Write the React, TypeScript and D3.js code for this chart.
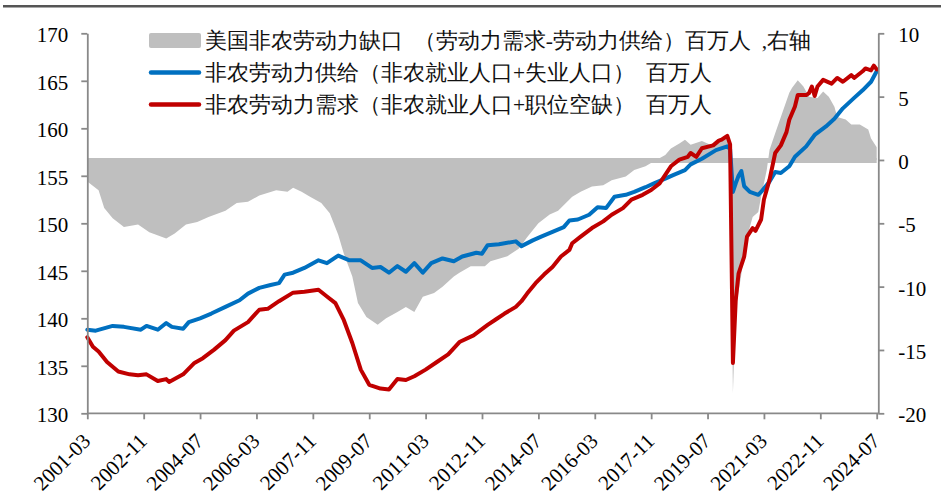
import { useEffect, useRef } from "react";
import * as d3 from "d3";

// month-end readings, millions of persons
const supply: [string, number][] = [
  ["2001-03", 138.8], ["2001-06", 138.7], ["2001-12", 139.2], ["2002-04", 139.1],
  ["2002-10", 138.8], ["2002-12", 139.2], ["2003-04", 138.8], ["2003-07", 139.5],
  ["2003-09", 139.1], ["2004-01", 138.9], ["2004-03", 139.6], ["2004-07", 140.0],
  ["2004-11", 140.5], ["2005-04", 141.2], ["2005-09", 141.9], ["2005-12", 142.6],
  ["2006-04", 143.2], ["2006-08", 143.5], ["2006-11", 143.7], ["2007-01", 144.6],
  ["2007-04", 144.8], ["2007-08", 145.3], ["2008-01", 146.1], ["2008-04", 145.8],
  ["2008-08", 146.6], ["2008-12", 146.1], ["2009-04", 146.1], ["2009-08", 145.3],
  ["2009-11", 145.4], ["2010-02", 144.8], ["2010-05", 145.5], ["2010-08", 144.9],
  ["2010-11", 145.8], ["2011-02", 144.8], ["2011-05", 145.8], ["2011-09", 146.3],
  ["2012-01", 146.0], ["2012-04", 146.5], ["2012-09", 146.9], ["2012-11", 146.8],
  ["2013-01", 147.7], ["2013-05", 147.8], ["2013-07", 147.9], ["2013-11", 148.1],
  ["2014-01", 147.6], ["2014-05", 148.2], ["2014-08", 148.6], ["2014-12", 149.1],
  ["2015-04", 149.6], ["2015-06", 150.3], ["2015-09", 150.4], ["2016-01", 150.9],
  ["2016-04", 151.7], ["2016-07", 151.6], ["2016-10", 152.8], ["2017-02", 153.0],
  ["2017-05", 153.3], ["2017-09", 153.8], ["2017-12", 154.2], ["2018-04", 154.7],
  ["2018-07", 155.1], ["2018-11", 155.6], ["2019-01", 156.2], ["2019-05", 156.8],
  ["2019-10", 157.7], ["2020-02", 158.1], ["2020-03", 157.8], ["2020-04", 153.3],
  ["2020-05", 154.2], ["2020-06", 155.0], ["2020-07", 155.5], ["2020-08", 153.9],
  ["2020-10", 153.3], ["2021-01", 153.0], ["2021-02", 153.3], ["2021-05", 154.4],
  ["2021-07", 155.4], ["2021-09", 155.3], ["2021-12", 156.0], ["2022-02", 157.0],
  ["2022-06", 158.1], ["2022-09", 159.3], ["2023-01", 160.2], ["2023-04", 161.0],
  ["2023-07", 162.1], ["2023-11", 163.2], ["2024-02", 164.0], ["2024-05", 164.9],
  ["2024-07", 166.0],
];

const demand: [string, number][] = [
  ["2001-03", 138.0], ["2001-05", 137.0], ["2001-07", 136.5], ["2001-10", 135.4],
  ["2002-02", 134.4], ["2002-06", 134.1], ["2002-09", 134.0], ["2002-12", 134.1],
  ["2003-04", 133.4], ["2003-07", 133.6], ["2003-08", 133.3], ["2004-01", 134.1],
  ["2004-05", 135.3], ["2004-08", 135.8], ["2004-12", 136.7], ["2005-04", 137.7],
  ["2005-07", 138.7], ["2005-12", 139.6], ["2006-04", 140.9], ["2006-07", 141.0],
  ["2006-11", 141.8], ["2007-04", 142.7], ["2007-08", 142.8], ["2008-01", 143.0],
  ["2008-04", 142.3], ["2008-07", 141.6], ["2008-10", 139.8], ["2009-01", 137.4],
  ["2009-04", 134.6], ["2009-07", 133.0], ["2009-11", 132.6], ["2010-02", 132.5],
  ["2010-05", 133.6], ["2010-08", 133.5], ["2010-11", 133.9], ["2011-03", 134.6],
  ["2011-07", 135.4], ["2011-11", 136.2], ["2012-03", 137.5], ["2012-08", 138.2],
  ["2013-01", 139.3], ["2013-04", 139.9], ["2013-07", 140.5], ["2013-11", 141.2],
  ["2014-01", 141.8], ["2014-03", 142.6], ["2014-06", 143.7], ["2014-09", 144.6],
  ["2014-12", 145.4], ["2015-03", 146.5], ["2015-06", 147.2], ["2015-07", 147.9],
  ["2015-10", 148.6], ["2016-02", 149.5], ["2016-06", 150.2], ["2016-09", 150.9],
  ["2017-01", 151.6], ["2017-04", 152.5], ["2017-08", 153.0], ["2017-11", 153.5],
  ["2018-02", 154.2], ["2018-04", 155.1], ["2018-06", 156.0], ["2018-09", 156.7],
  ["2018-12", 157.0], ["2019-01", 157.4], ["2019-03", 157.0], ["2019-05", 157.9],
  ["2019-09", 158.2], ["2019-11", 158.7], ["2019-12", 158.8], ["2020-02", 159.2],
  ["2020-03", 158.3], ["2020-04", 135.3], ["2020-05", 141.9], ["2020-06", 144.7],
  ["2020-08", 146.5], ["2020-09", 148.6], ["2020-11", 149.5], ["2020-12", 149.2],
  ["2021-02", 150.4], ["2021-03", 152.5], ["2021-05", 154.6], ["2021-07", 157.4],
  ["2021-09", 158.2], ["2021-11", 159.6], ["2021-12", 160.9], ["2022-02", 162.3],
  ["2022-03", 163.5], ["2022-06", 163.5], ["2022-07", 163.7], ["2022-08", 164.4],
  ["2022-09", 163.4], ["2022-10", 164.4], ["2022-12", 165.1], ["2023-03", 164.7],
  ["2023-05", 165.3], ["2023-07", 164.9], ["2023-10", 165.6], ["2023-11", 165.3],
  ["2024-02", 166.0], ["2024-03", 166.3], ["2024-05", 166.1], ["2024-06", 166.6],
  ["2024-07", 166.2],
];

const gap: [string, number][] = [
  ["2001-03", -1.7], ["2001-07", -2.4], ["2001-09", -3.8], ["2001-12", -4.6],
  ["2002-04", -5.3], ["2002-09", -5.1], ["2003-01", -5.7], ["2003-07", -6.2],
  ["2003-10", -5.8], ["2004-02", -5.1], ["2004-06", -4.9], ["2004-10", -4.5],
  ["2005-04", -4.0], ["2005-08", -3.4], ["2005-12", -3.3], ["2006-04", -2.8],
  ["2006-10", -2.4], ["2007-02", -2.5], ["2007-04", -2.2], ["2007-07", -2.5],
  ["2007-10", -2.9], ["2008-02", -3.4], ["2008-05", -4.2], ["2008-08", -5.9],
  ["2008-10", -7.4], ["2009-01", -9.2], ["2009-03", -11.3], ["2009-06", -12.4],
  ["2009-10", -13.0], ["2010-01", -12.5], ["2010-05", -12.0], ["2010-08", -11.6],
  ["2010-11", -12.0], ["2011-02", -10.8], ["2011-06", -10.5], ["2011-09", -10.0],
  ["2012-01", -9.2], ["2012-03", -8.9], ["2012-07", -8.4], ["2012-12", -8.4],
  ["2013-02", -8.0], ["2013-05", -7.8], ["2013-08", -7.6], ["2013-12", -7.0],
  ["2014-03", -6.1], ["2014-07", -5.0], ["2014-11", -4.3], ["2015-02", -4.0],
  ["2015-07", -2.9], ["2015-10", -2.5], ["2016-02", -2.1], ["2016-06", -2.0],
  ["2016-09", -1.6], ["2017-02", -1.3], ["2017-05", -0.8], ["2017-09", -0.5],
  ["2017-12", -0.1], ["2018-04", 0.4], ["2018-06", 0.9], ["2018-09", 1.3],
  ["2018-11", 1.6], ["2019-01", 1.2], ["2019-05", 1.5], ["2019-08", 1.2],
  ["2019-11", 1.5], ["2020-02", 1.8], ["2020-03", 0.5], ["2020-04", -18.4],
  ["2020-05", -11.8], ["2020-07", -9.0], ["2020-08", -7.1], ["2020-10", -5.3],
  ["2020-11", -4.5], ["2021-01", -4.1], ["2021-02", -2.9], ["2021-04", -0.8],
  ["2021-05", 0.8], ["2021-07", 2.1], ["2021-09", 3.4], ["2021-12", 5.3],
  ["2022-01", 5.7], ["2022-03", 6.3], ["2022-05", 5.8], ["2022-07", 5.0],
  ["2022-10", 4.9], ["2022-12", 5.4], ["2023-02", 5.0], ["2023-04", 4.2],
  ["2023-05", 3.4], ["2023-08", 3.2], ["2023-10", 2.8], ["2024-01", 2.8],
  ["2024-04", 2.4], ["2024-05", 1.7], ["2024-07", 1.0],
];

const xTickLabels = [
  "2001-03", "2002-11", "2004-07", "2006-03", "2007-11", "2009-07", "2011-03", "2012-11",
  "2014-07", "2016-03", "2017-11", "2019-07", "2021-03", "2022-11", "2024-07",
];
const leftTicks = [130, 135, 140, 145, 150, 155, 160, 165, 170];
const rightTicks = [-20, -15, -10, -5, 0, 5, 10];

const legendLabels = [
  "美国非农劳动力缺口\u2002（劳动力需求-劳动力供给）百万人\u2002,右轴",
  "非农劳动力供给（非农就业人口+失业人口）\u2002百万人",
  "非农劳动力需求（非农就业人口+职位空缺）\u2002百万人",
];

const GRAY = "#bfbfbf";
const BLUE = "#0070c0";
const RED = "#c00000";
const AXIS = "#898989";
const FONT = "'Liberation Serif', 'Times New Roman', serif";

const monthIndex = (s: string) => {
  const [yy, mm] = s.split("-").map(Number);
  return (yy - 2001) * 12 + (mm - 3);
};

function LaborGapChart() {
  const svgRef = useRef<SVGSVGElement | null>(null);

  useEffect(() => {
    const svgEl = svgRef.current;
    if (!svgEl) return;
    const svg = d3.select(svgEl);
    svg.selectAll("*").remove();

    const left = 87.3;
    const right = 878.3;
    const top = 33.3;
    const bottom = 413.3;

    const x = d3.scaleLinear().domain([0, monthIndex("2024-07")]).range([left, 876.7]);
    const yL = d3.scaleLinear().domain([130, 170]).range([bottom, top]);
    const yR = d3.scaleLinear().domain([-20, 10]).range([bottom, top]);

    // rule under the cut-off title
    svg.append("line")
      .attr("x1", 3).attr("x2", 941).attr("y1", 6.2).attr("y2", 6.2)
      .attr("stroke", "#555").attr("stroke-width", 2.5);

    // gap area, right axis
    const area = d3.area<[string, number]>()
      .x((d) => x(monthIndex(d[0])))
      .y0(yR(0))
      .y1((d) => yR(d[1]));
    svg.append("path").datum(gap).attr("d", area).attr("fill", GRAY);
    svg.append("line")
      .attr("x1", x(0)).attr("x2", x(monthIndex("2024-07")))
      .attr("y1", yR(0) + 0.5).attr("y2", yR(0) + 0.5)
      .attr("stroke", GRAY).attr("stroke-width", 5);

    const line = d3.line<[string, number]>()
      .x((d) => x(monthIndex(d[0])))
      .y((d) => yL(d[1]));
    svg.append("path").datum(supply).attr("d", line)
      .attr("fill", "none").attr("stroke", BLUE).attr("stroke-width", 4)
      .attr("stroke-linejoin", "round").attr("stroke-linecap", "round");
    svg.append("path").datum(demand).attr("d", line)
      .attr("fill", "none").attr("stroke", RED).attr("stroke-width", 4)
      .attr("stroke-linejoin", "round").attr("stroke-linecap", "round");

    // axes
    const styleAxis = (g: d3.Selection<SVGGElement, unknown, null, undefined>) => {
      g.attr("font-family", null).attr("font-size", null);
      g.select(".domain").attr("stroke", AXIS).attr("stroke-width", 1.8);
      g.selectAll(".tick line").attr("stroke", AXIS).attr("stroke-width", 1.8);
      g.selectAll(".tick text")
        .attr("fill", "#000")
        .style("font-family", FONT)
        .style("font-size", "21px");
    };

    const gl = svg.append("g").attr("transform", `translate(${left},0)`)
      .call(d3.axisLeft(yL).tickValues(leftTicks).tickSize(6).tickSizeOuter(0)
        .tickPadding(13).tickFormat((d) => String(d)));
    styleAxis(gl);
    gl.selectAll(".tick text").attr("dy", "0.4em");

    const gr = svg.append("g").attr("transform", `translate(${right},0)`)
      .call(d3.axisRight(yR).tickValues(rightTicks).tickSize(6).tickSizeOuter(0)
        .tickPadding(14).tickFormat((d) => String(d)));
    styleAxis(gr);
    gr.selectAll(".tick text").attr("dy", "0.4em");

    const gx = svg.append("g").attr("transform", `translate(0,${bottom})`)
      .call(d3.axisBottom(x).tickValues(xTickLabels.map(monthIndex)).tickSize(6)
        .tickSizeOuter(0).tickFormat((d, i) => xTickLabels[i]));
    gx.select(".domain").attr("d", `M${left},0H${right}`);
    styleAxis(gx);
    gx.selectAll<SVGTextElement, number>(".tick text")
      .attr("text-anchor", "end")
      .attr("x", 0).attr("y", 0).attr("dy", 0)
      .attr("transform", "translate(4,29) rotate(-45)");

    // legend
    const lg = svg.append("g");
    const rowY = [40.5, 72.5, 104.5];
    lg.append("rect").attr("x", 149).attr("y", rowY[0] - 7.5).attr("width", 52).attr("height", 15)
      .attr("rx", 2).attr("fill", GRAY);
    [BLUE, RED].forEach((c, i) => {
      lg.append("line").attr("x1", 151).attr("x2", 199)
        .attr("y1", rowY[i + 1]).attr("y2", rowY[i + 1])
        .attr("stroke", c).attr("stroke-width", 4.5).attr("stroke-linecap", "round");
    });
    lg.selectAll("text.lab").data(legendLabels).enter().append("text")
      .attr("class", "lab")
      .attr("x", 205).attr("y", (_, i) => rowY[i])
      .attr("dominant-baseline", "central")
      .style("font-family", FONT).style("font-size", "21.5px").attr("fill", "#111")
      .text((d) => d);
  }, []);

  return (
    <svg
      ref={svgRef}
      width={941}
      height={502}
      style={{ position: "absolute", left: 0, top: 0, background: "#fff" }}
      role="img"
      aria-label="美国非农劳动力供需缺口"
    />
  );
}

export default function App() {
  return <LaborGapChart />;
}
